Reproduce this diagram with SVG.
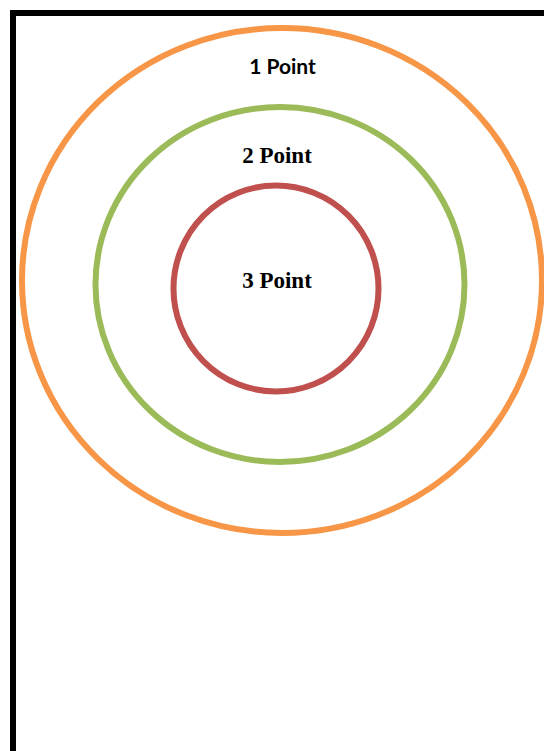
<svg xmlns="http://www.w3.org/2000/svg" width="544" height="751" viewBox="0 0 544 751">
<style>
.ring{fill:none;stroke-width:6}
.sans{font-family:Lato,"Liberation Sans",sans-serif;font-weight:bold;font-size:21px;fill:#000}
.serif{font-family:"Liberation Serif",serif;font-weight:bold;font-size:23px;fill:#000}
</style>
<rect width="544" height="751" fill="#fff"/>
<path d="M13 751 V13 H544" fill="none" stroke="#000" stroke-width="6"/>
<g id="ring1">
<ellipse class="ring" cx="282" cy="280.5" rx="260" ry="252.5" stroke="#f79646"/>
<text class="sans" x="282.5" y="74" text-anchor="middle">1 Point</text>
</g>
<g id="ring2">
<ellipse class="ring" cx="280" cy="284.5" rx="184.5" ry="177.5" stroke="#9bbb59"/>
<text class="serif" x="277" y="163" text-anchor="middle">2 Point</text>
</g>
<g id="ring3">
<ellipse class="ring" cx="276" cy="288.5" rx="102.5" ry="103" stroke="#c0504d"/>
<text class="serif" x="277" y="288" text-anchor="middle">3 Point</text>
</g>
<g id="connectors"/>
</svg>
